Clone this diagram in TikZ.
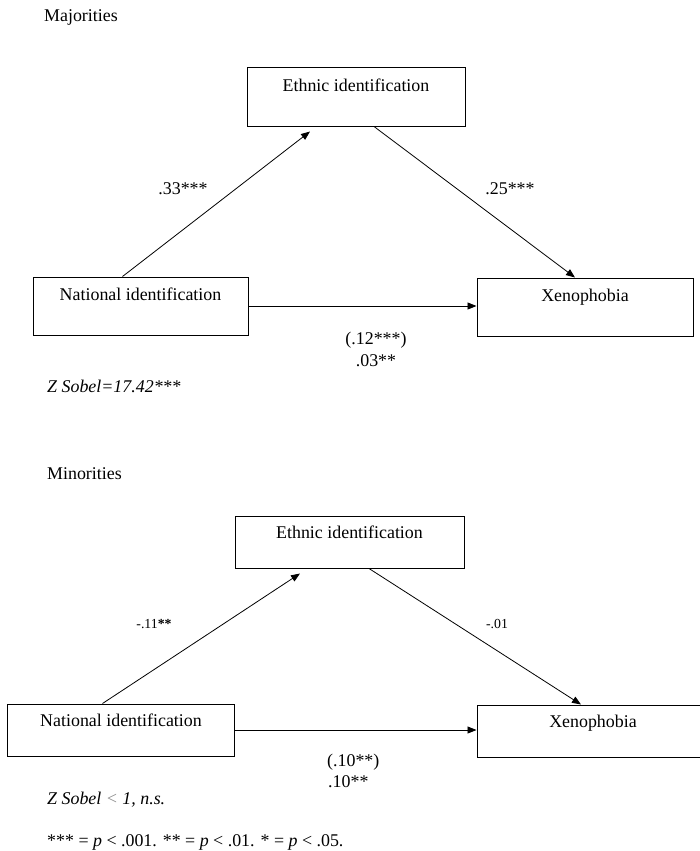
\documentclass[tikz,border=0pt]{standalone}
\usepackage{fontspec}
\setmainfont{Liberation Serif}
\usepackage{tikz}
\usetikzlibrary{arrows.meta}
\usetikzlibrary{positioning}
\tikzset{
upper box/.style = { rectangle, draw = black, line width = 1pt, inner ysep = 0pt, text height = 23pt, text depth = 35pt },
lower box/.style = { rectangle, draw = black, line width = 1pt, inner ysep = 0pt, text height = 22pt, text depth = 30pt },
link/.style = { draw = black, line width = 0.8pt, -{Triangle[length = 9pt, width = 7pt]} },
heading/.style = { anchor = west, inner sep = 0pt },
coef/.style = { inner sep = 0pt },
small coef/.style = { inner sep = 0pt, font = \fontsize{13.8}{16}\selectfont },
note/.style = { anchor = west, inner sep = 0pt, font = \fontsize{17.9}{21}\selectfont\itshape },
}

\begin{document}
\begin{tikzpicture}[x = 1pt, y = -1pt, font = \fontsize{17.9}{21}\selectfont]
      \useasboundingbox (0, 0) rectangle (699, 851);
      % majorities
      \node[heading] (majtitle) at (44, 17) {Majorities};
      \node[upper box, minimum width = 218pt] (majeth) at (356, 97) {Ethnic identification};
      \node[upper box, minimum width = 215pt] (majnat) at (140.5, 306) {National identification};
      \node[upper box, minimum width = 216pt] (majxen) at (585, 307) {Xenophobia};
      \draw[link] ([xshift = -18pt]majnat.north) -- ([xshift = -46pt, yshift = -5pt]majeth.south);
      \draw[link] ([xshift = 18pt]majeth.south) -- ([xshift = -10pt]majxen.north);
      \draw[link] (majnat.east) -- (majnat.east -| majxen.west);
      \node[coef] (maja) at (183, 189) {.33***};
      \node[coef] (majb) at (510, 189) {.25***};
      \node[coef] (majc) at (376, 340) {(.12***)};
      \node[coef] (majd) at (376, 361) {.03**};
      \node[note] (majsobel) at (47, 386) {Z Sobel=17.42***};
      % minorities
      \node[heading] (mintitle) at (47, 474) {Minorities};
      \node[lower box, minimum width = 229pt] (mineth) at (349.5, 542) {Ethnic identification};
      \node[lower box, minimum width = 227pt] (minnat) at (121, 730) {National identification};
      \node[lower box, minimum width = 232pt] (minxen) at (593, 731) {Xenophobia};
      \draw[link] ([xshift = -18.5pt]minnat.north) -- ([xshift = -49.5pt, yshift = -5pt]mineth.south);
      \draw[link] ([xshift = 19.5pt]mineth.south) -- ([xshift = -12pt]minxen.north);
      \draw[link] (minnat.east) -- (minnat.east -| minxen.west);
      \node[small coef] (mina) at (154, 624) {-.11\textbf{**}};
      \node[small coef] (minb) at (497, 624) {-.01};
      \node[coef, anchor = west] (minc) at (327, 762) {(.10**)};
      \node[coef, anchor = west] (mind) at (328, 782) {.10**};
      \node[note] (minsobel) at (47, 800) {Z Sobel {\color{black!45}<} 1, n.s.};
      \node[heading] (legend) at (47, 842) {*** = \textit{p} < .001. ** = \textit{p} < .01. * = \textit{p} < .05.};
    \end{tikzpicture}
\end{document}
